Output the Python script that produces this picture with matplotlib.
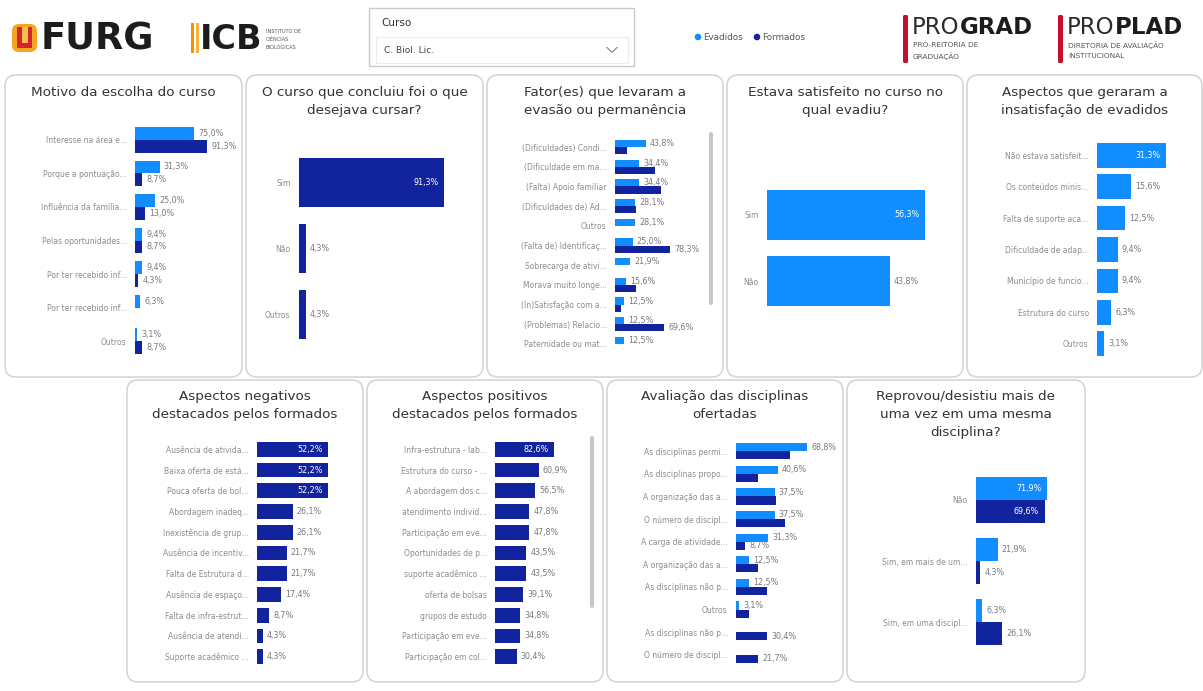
import numpy as np
import matplotlib
matplotlib.use("Agg")
import matplotlib.pyplot as plt
from matplotlib.patches import FancyBboxPatch, Rectangle, Circle

nan = np.nan
W, H = 1203, 691
EV_C = "#118DFF"
FO_C = "#12239E"

# ---------------- data ----------------
p1_title = ["Motivo da escolha do curso"]
p1_cats = ["Interesse na área e...", "Porque a pontuação...", "Influência da família...",
           "Pelas oportunidades...", "Por ter recebido inf...", "Por ter recebido inf...", "Outros"]
p1_ev = [75.0, 31.3, 25.0, 9.4, 9.4, 6.3, 3.1]
p1_fo = [91.3, 8.7, 13.0, 8.7, 4.3, nan, 8.7]

p2_title = ["O curso que concluiu foi o que", "desejava cursar?"]
p2_cats = ["Sim", "Não", "Outros"]
p2_fo = [91.3, 4.3, 4.3]

p3_title = ["Fator(es) que levaram a", "evasão ou permanência"]
p3_cats = ["(Dificuldades) Condi...", "(Dificuldade em ma...", "(Falta) Apoio familiar",
           "(Dificuldades de) Ad...", "Outros", "(Falta de) Identificaç...", "Sobrecarga de ativi...",
           "Morava muito longe...", "(In)Satisfação com a...", "(Problemas) Relacio...",
           "Paternidade ou mat..."]
p3_ev = [43.8, 34.4, 34.4, 28.1, 28.1, 25.0, 21.9, 15.6, 12.5, 12.5, 12.5]
p3_fo = [17.4, 56.5, 65.2, 30.4, nan, 78.3, nan, 30.4, 8.7, 69.6, nan]

p4_title = ["Estava satisfeito no curso no", "qual evadiu?"]
p4_cats = ["Sim", "Não"]
p4_ev = [56.3, 43.8]

p5_title = ["Aspectos que geraram a", "insatisfação de evadidos"]
p5_cats = ["Não estava satisfeit...", "Os conteúdos minis...", "Falta de suporte aca...",
           "Dificuldade de adap...", "Município de funcio...", "Estrutura do curso", "Outros"]
p5_ev = [31.3, 15.6, 12.5, 9.4, 9.4, 6.3, 3.1]

p6_title = ["Aspectos negativos", "destacados pelos formados"]
p6_cats = ["Ausência de ativida...", "Baixa oferta de está...", "Pouca oferta de bol...",
           "Abordagem inadeq...", "Inexistência de grup...", "Ausência de incentiv...",
           "Falta de Estrutura d...", "Ausência de espaço...", "Falta de infra-estrut...",
           "Ausência de atendi...", "Suporte acadêmico ..."]
p6_fo = [52.2, 52.2, 52.2, 26.1, 26.1, 21.7, 21.7, 17.4, 8.7, 4.3, 4.3]

p7_title = ["Aspectos positivos", "destacados pelos formados"]
p7_cats = ["Infra-estrutura - lab...", "Estrutura do curso - ...", "A abordagem dos c...",
           "atendimento individ...", "Participação em eve...", "Oportunidades de p...",
           "suporte acadêmico ...", "oferta de bolsas", "grupos de estudo",
           "Participação em eve...", "Participação em col..."]
p7_fo = [82.6, 60.9, 56.5, 47.8, 47.8, 43.5, 43.5, 39.1, 34.8, 34.8, 30.4]

p8_title = ["Avaliação das disciplinas", "ofertadas"]
p8_cats = ["As disciplinas permi...", "As disciplinas propo...", "A organização das a...",
           "O número de discipl...", "A carga de atividade...", "A organização das a...",
           "As disciplinas não p...", "Outros", "As disciplinas não p...", "O número de discipl..."]
p8_ev = [68.8, 40.6, 37.5, 37.5, 31.3, 12.5, 12.5, 3.1, nan, nan]
p8_fo = [52.2, 21.7, 39.1, 47.8, 8.7, 21.7, 30.4, 13.0, 30.4, 21.7]

p9_title = ["Reprovou/desistiu mais de", "uma vez em uma mesma", "disciplina?"]
p9_cats = ["Não", "Sim, em mais de um...", "Sim, em uma discipl..."]
p9_ev = [71.9, 21.9, 6.3]
p9_fo = [69.6, 4.3, 26.1]

legend_labels = ["Evadidos", "Formados"]

# ---------------- figure ----------------
fig = plt.figure(figsize=(W / 100, H / 100), dpi=100)
fig.patch.set_facecolor("white")
bg = fig.add_axes([0, 0, 1, 1])
bg.set_xlim(0, W)
bg.set_ylim(H, 0)
bg.axis("off")
bg.set_zorder(0)

TITLE_C = "#333333"
LAB_C = "#8c8c8c"
VAL_C = "#7a7a7a"


def fmt(v):
    return f"{v:.1f}%".replace(".", ",")


def draw_panel(box, title, cats, ev, fo, start, top, bottom, maxlen, right, g,
               inside_ok, title_y0, scroll=None, collide_px=0):
    x0, y0, x1, y1 = box
    bg.add_patch(FancyBboxPatch((x0, y0), x1 - x0, y1 - y0,
                                boxstyle="round,pad=0,rounding_size=11",
                                fc="white", ec="#d6d6d6", lw=1.2))
    cx = (x0 + x1) / 2
    for i, line in enumerate(title):
        bg.text(cx, title_y0 + 18 * i, line, ha="center", va="center",
                fontsize=9.7, color=TITLE_C)
    if scroll is not None:
        sx, sy0, sy1 = scroll
        bg.add_patch(FancyBboxPatch((sx - 2, sy0), 4, sy1 - sy0,
                                    boxstyle="round,pad=0,rounding_size=2",
                                    fc="#c6c6c6", ec="none"))
    ax = fig.add_axes([start / W, 1 - bottom / H, (right - start) / W, (bottom - top) / H])
    ax.set_zorder(2)
    ax.patch.set_visible(False)
    n = len(cats)
    y = np.arange(n)
    series = [(np.array(s, dtype=float), c) for s, c in ((ev, EV_C), (fo, FO_C)) if s is not None]
    if len(series) == 2:
        bh = g / 2
        offs = [-bh / 2, bh / 2]
    else:
        bh = g
        offs = [0]
    vmax = max(np.nanmax(s) for s, _ in series)
    xmax = vmax * (right - start) / maxlen
    pxper = maxlen / vmax
    for k, ((vals, c), off) in enumerate(zip(series, offs)):
        ax.barh(y + off, np.nan_to_num(vals), height=bh, color=c, lw=0)
        for i, (yi, v) in enumerate(zip(y, vals)):
            if np.isnan(v):
                continue
            if k == 1 and collide_px > 0:
                other = series[0][0][i]
                if not np.isnan(other) and abs(other - v) * pxper < collide_px:
                    continue  # label hidden by overlap (as the dashboard does)
            if inside_ok and v >= 0.9 * vmax:
                ax.annotate(fmt(v), (v, yi + off), xytext=(-4, 0), textcoords="offset points",
                            ha="right", va="center", fontsize=5.8, color="white")
            else:
                ax.annotate(fmt(v), (v, yi + off), xytext=(3, 0), textcoords="offset points",
                            ha="left", va="center", fontsize=5.8, color=VAL_C)
    ax.set_xlim(0, xmax)
    ax.set_ylim(n - 1 + g / 2, -g / 2)
    ax.set_yticks(y)
    ax.set_yticklabels(cats)
    ax.tick_params(axis="y", length=0, pad=6, labelsize=5.5, labelcolor=LAB_C)
    ax.set_xticks([])
    for s in ax.spines.values():
        s.set_visible(False)
    return ax


# row 1
draw_panel((5, 75, 242, 377), p1_title, p1_cats, p1_ev, p1_fo, 135, 127, 354, 72, 238, 0.76, False, 92)
draw_panel((246, 75, 483, 377), p2_title, p2_cats, None, p2_fo, 299, 158, 339, 145, 478, 0.74, True, 92)
draw_panel((487, 75, 723, 377), p3_title, p3_cats, p3_ev, p3_fo, 615, 140, 351, 55, 705, 0.72, False, 92,
           scroll=(711, 132, 305), collide_px=22)
draw_panel((727, 75, 963, 377), p4_title, p4_cats, p4_ev, None, 767, 190, 306, 158, 958, 0.75, True, 92)
draw_panel((967, 75, 1202, 377), p5_title, p5_cats, p5_ev, None, 1097, 143, 356, 69, 1198, 0.78, True, 92)
# row 2
draw_panel((127, 380, 363, 682), p6_title, p6_cats, None, p6_fo, 257, 442, 664, 71, 358, 0.70, True, 396)
draw_panel((367, 380, 603, 682), p7_title, p7_cats, None, p7_fo, 495, 442, 664, 59, 588, 0.70, True, 396,
           scroll=(592, 436, 608))
draw_panel((607, 380, 843, 682), p8_title, p8_cats, p8_ev, p8_fo, 736, 443, 663, 71, 838, 0.72, False, 396,
           collide_px=22)
draw_panel((847, 380, 1085, 682), p9_title, p9_cats, p9_ev, p9_fo, 976, 477, 645, 71, 1080, 0.75, True, 396)

# ---------------- header ----------------
# FURG logo
bg.add_patch(FancyBboxPatch((12, 24), 25, 28, boxstyle="round,pad=0,rounding_size=7",
                            fc="#F5A524", ec="none"))
bg.add_patch(Rectangle((17, 27), 15, 21, fc="#D3262B", ec="none"))
bg.add_patch(Rectangle((21.5, 27), 6, 16, fc="#F7C04A", ec="none"))
bg.text(41, 39, "FURG", fontsize=26.5, fontweight="bold", color="#1c1c1c", ha="left", va="center")

# ICB logo
bg.add_patch(Rectangle((191, 23), 3, 30, fc="#F39200", ec="none"))
bg.add_patch(Rectangle((195.5, 23), 3, 30, fc="#F9B233", ec="none"))
bg.text(200, 39, "ICB", fontsize=24, fontweight="bold", color="#1c1c1c", ha="left", va="center")
for i, s in enumerate(["INSTITUTO DE", "CIÊNCIAS", "BIOLÓGICAS"]):
    bg.text(266, 31 + 8 * i, s, fontsize=3.6, color="#555555", ha="left", va="center")

# dropdown slicer
bg.add_patch(Rectangle((369, 8), 265, 58, fc="white", ec="#c9c9c9", lw=1.0))
bg.add_patch(Rectangle((376, 37), 252, 26, fc="white", ec="#ececec", lw=0.8))
bg.text(381, 23, "Curso", fontsize=7.5, color="#333333", ha="left", va="center")
bg.text(384, 50, "C. Biol. Lic.", fontsize=6.5, color="#444444", ha="left", va="center")
bg.plot([607, 612, 617], [47.5, 52.5, 47.5], color="#8a8a8a", lw=0.9)

# legend
bg.add_patch(Circle((698, 37), 3.3, fc=EV_C, ec="none"))
bg.text(703, 37, legend_labels[0], fontsize=6.3, color="#555555", ha="left", va="center")
bg.add_patch(Circle((757, 37), 3.3, fc=FO_C, ec="none"))
bg.text(762, 37, legend_labels[1], fontsize=6.3, color="#555555", ha="left", va="center")


# PROGRAD / PROPLAD logos
def logo(xbar, big2, sub):
    bg.add_patch(FancyBboxPatch((xbar, 15), 5, 48, boxstyle="round,pad=0,rounding_size=1.5",
                                fc="#C8102E", ec="none"))
    t1 = bg.text(xbar + 9, 27, "PRO", fontsize=16.5, color="#2b2b2b", ha="left", va="center")
    bg.annotate(big2, xy=(1, 0.5), xycoords=t1, fontsize=16.5, fontweight="bold",
                color="#1c1c1c", ha="left", va="center")
    for i, s in enumerate(sub):
        bg.text(xbar + 10, 45 + 11 * i, s, fontsize=5.3, color="#555555", ha="left", va="center")


logo(903, "GRAD", ["PRÓ-REITORIA DE", "GRADUAÇÃO"])
logo(1058, "PLAD", ["DIRETORIA DE AVALIAÇÃO", "INSTITUCIONAL"])

fig.savefig("out.png", dpi=100, facecolor="white")
